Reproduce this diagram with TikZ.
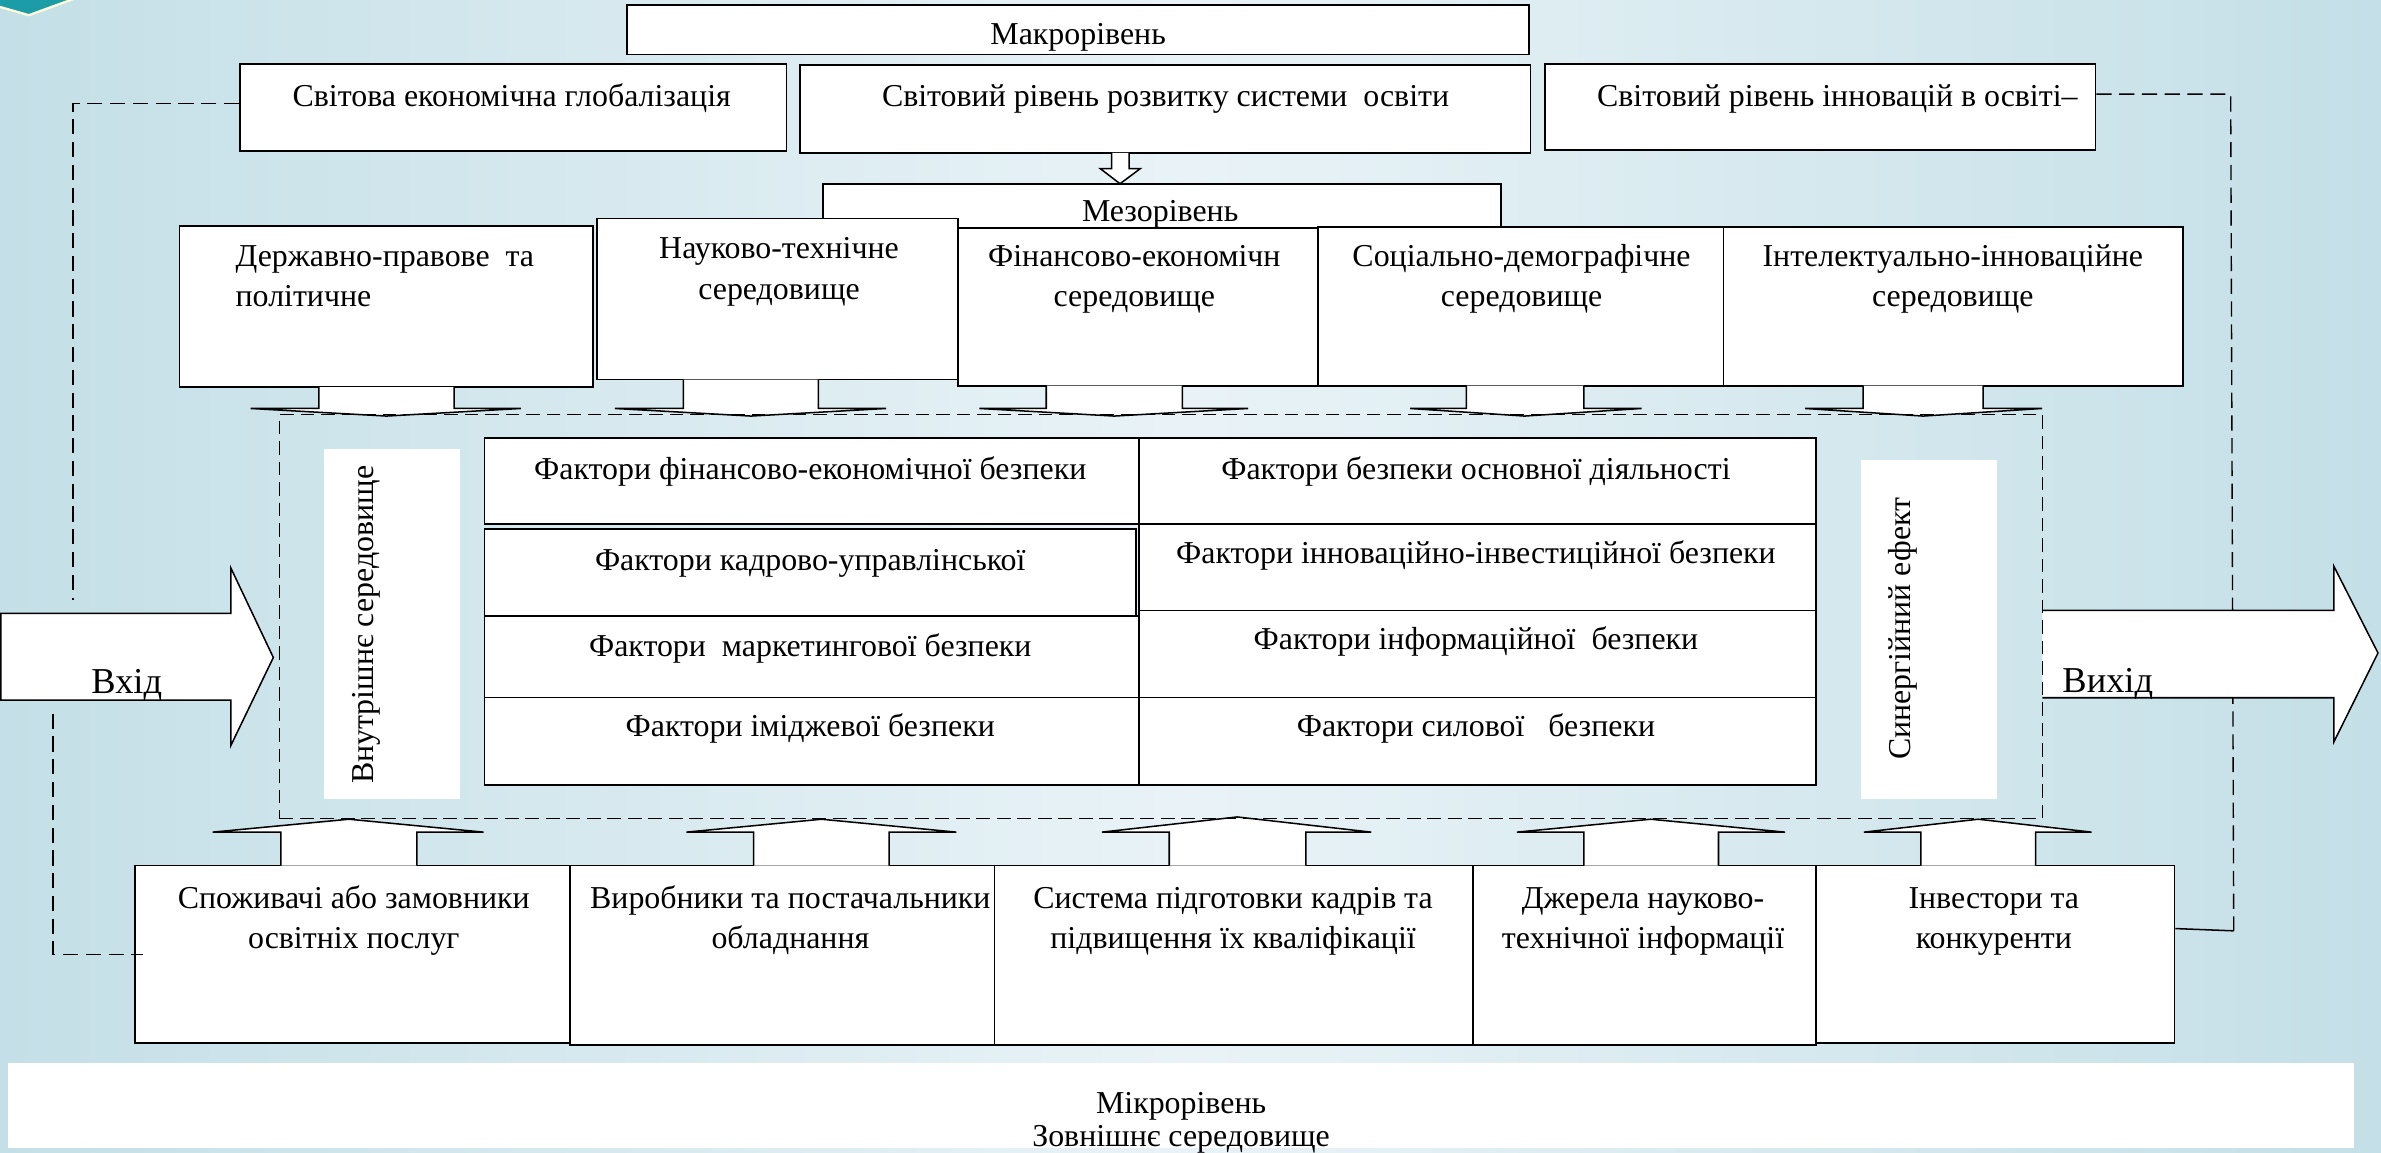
\documentclass[tikz,border=0pt]{standalone}
\usepackage{fontspec}
\setmainfont{Liberation Serif}
\definecolor{bgside}{RGB}{196,223,231}
\definecolor{bgmid}{RGB}{233,243,247}
\definecolor{cornerteal}{RGB}{28,156,166}
\tikzset{
  box/.style={draw, fill=white, line width=1.1pt, inner sep=0pt},
  plainbox/.style={fill=white, inner sep=0pt},
  txt/.style={anchor=base, inner sep=0pt, align=center, font=\fontsize{21}{26.5}\selectfont},
  bigtxt/.style={anchor=base, inner sep=0pt, font=\fontsize{24}{28}\selectfont},
  dashline/.style={dash pattern=on 10pt off 5pt, line width=0.9pt},
  blockarrow/.style={draw, fill=white, line width=1pt, line join=miter},
}
\begin{document}
\begin{tikzpicture}[x=1pt, y=-1pt]
\useasboundingbox (0,0) rectangle (1568,759);
\shade [left color=bgside, right color=bgside, middle color=bgmid] (0,0) rectangle (1568,759);
\fill [cornerteal, draw=white!85!yellow, line width=1.5pt] (-2,-2) -- (52,-2) -- (19,10) -- (-2,4) -- cycle;

% macro level
\node [box, minimum width=594, minimum height=32.7] (macro) at (710,19.65) {};
\node [txt] (macrot) at (710,29.6) {Макрорівень};
\node [box, minimum width=360, minimum height=57.5] (glob) at (338,70.75) {};
\node [txt] (globt) at (337,70) {Світова економічна глобалізація};
\node [box, minimum width=481, minimum height=57.6] (sys) at (767.5,71.8) {};
\node [txt] (syst) at (767.6,70) {Світовий рівень розвитку системи\ \ освіти};
\node [box, minimum width=362.4, minimum height=57] (innov) at (1198.8,70.5) {};
\node [txt] (innovt) at (1210,70) {Світовий рівень інновацій в освіті–};
\draw [blockarrow] (732,100.6) -- (732,111) -- (724.5,111) -- (737.6,121) -- (751,111) -- (743.5,111) -- (743.5,100.6);

% meso level
\node [box, minimum width=446.5, minimum height=44] (meso) at (765.25,143) {};
\node [txt] (mesot) at (764,146) {Мезорівень};
\node [box, minimum width=272.2, minimum height=106] (state) at (254.4,202) {};
\node [txt, anchor=base west, align=left] (statet) at (155,202.1) {Державно-правове\ \ та\\політичне};
\node [box, minimum width=238, minimum height=106] (sci) at (512,197) {};
\node [txt] (scit) at (513,197) {Науково-технічне\\середовище};
\node [box, minimum width=237, minimum height=104] (fin) at (749.5,202) {};
\node [txt] (fint) at (747,202.1) {Фінансово-економічн\\середовище};
\node [box, minimum width=267, minimum height=104.7] (soc) at (1001.5,201.65) {};
\node [txt] (soct) at (1002,202.1) {Соціально-демографічне\\середовище};
\node [box, minimum width=302.6, minimum height=104.7] (intel) at (1286.3,201.65) {};
\node [txt] (intelt) at (1286,202.1) {Інтелектуально-інноваційне\\середовище};

% arrows into the enterprise
\draw [blockarrow] (210,255) -- (210,269) -- (165,269) -- (254.5,274) -- (343,269) -- (299,269) -- (299,255);
\draw [blockarrow] (450,250) -- (450,269) -- (405,269) -- (494.5,274) -- (583.5,269) -- (539,269) -- (539,250);
\draw [blockarrow] (689,254) -- (689,269) -- (645,269) -- (733.8,274) -- (822,269) -- (778.6,269) -- (778.6,254);
\draw [blockarrow] (965.6,254) -- (965.6,269) -- (928.6,269) -- (1004,274) -- (1081,269) -- (1043,269) -- (1043,254);
\draw [blockarrow] (1227,254) -- (1227,269) -- (1188.7,269) -- (1266.5,274) -- (1344.8,269) -- (1306,269) -- (1306,254);

% feedback lines
\coordinate (ltop) at (48,395);
\coordinate (lbot) at (35,470);
\coordinate (rtop) at (1469,62);
\coordinate (rbot) at (1471,613);
\draw [dashline] ([yshift=2.75pt]glob.west) -| (ltop);
\draw [dashline] ([yshift=8.5pt]innov.east) -- (rtop) -- (rbot);

% input and output
\draw [blockarrow] (0.5,404) -- (152,404) -- (152,374) -- (180,433) -- (152,491) -- (152,461) -- (0.5,461) -- cycle;
\node [bigtxt] (int) at (83.5,456.5) {Вхід};
\draw [blockarrow] (1345,402) -- (1537,402) -- (1537,373) -- (1566,430) -- (1537,488.5) -- (1537,459.5) -- (1345,459.5);
\node [bigtxt, anchor=base west] (outt) at (1358,456) {Вихід};

% internal environment
\node [plainbox, minimum width=89.6, minimum height=230.2] (inwbox) at (258.2,410.9) {};
\node [txt, anchor=center, rotate=90] (inwt) at (241,411.5) {Внутрішнє середовище};
\node [plainbox, minimum width=89.4, minimum height=223] (synbox) at (1270.3,414.5) {};
\node [txt, anchor=center, rotate=90] (synt) at (1253,414) {Синергійний ефект};

\node [box, minimum width=431, minimum height=56.4] (f1) at (534.5,316.8) {};
\node [box, minimum width=429, minimum height=57] (f2) at (533.5,377) {};
\node [box, minimum width=431, minimum height=53.9] (f3) at (534.5,432.45) {};
\node [box, minimum width=431, minimum height=57.6] (f4) at (534.5,488.2) {};
\node [box, minimum width=446, minimum height=56.4] (g1) at (973,316.8) {};
\node [box, minimum width=446, minimum height=57] (g2) at (973,373.5) {};
\node [box, minimum width=446, minimum height=57.4] (g3) at (973,430.7) {};
\node [box, minimum width=446, minimum height=57.6] (g4) at (973,488.2) {};
\node [txt] (f1t) at (533.6,316) {Фактори фінансово-економічної безпеки};
\node [txt] (f2t) at (533.6,375.5) {Фактори кадрово-управлінської};
\node [txt] (f3t) at (533.6,432.5) {Фактори\ \ маркетингової безпеки};
\node [txt] (f4t) at (533.6,485) {Фактори іміджевої безпеки};
\node [txt] (g1t) at (972,316) {Фактори безпеки основної діяльності};
\node [txt] (g2t) at (972,371) {Фактори інноваційно-інвестиційної безпеки};
\node [txt] (g3t) at (972,428) {Фактори інформаційної\ \ безпеки};
\node [txt] (g4t) at (972,485) {Фактори силової\ \ \ безпеки};

% micro level
\node [box, minimum width=286.5, minimum height=117] (cons) at (232.25,628.5) {};
\node [box, minimum width=279.5, minimum height=118] (prod) at (515.25,629) {};
\node [box, minimum width=315, minimum height=118] (train) at (812.5,629) {};
\node [box, minimum width=226, minimum height=118] (src) at (1083,629) {};
\node [box, minimum width=236, minimum height=117] (inv) at (1314,628.5) {};
\node [txt] (const) at (233,624.5) {Споживачі або замовники\\освітніх послуг};
\node [txt] (prodt) at (520.5,624.5) {Виробники та постачальники\\обладнання};
\node [txt] (traint) at (812,624.5) {Система підготовки кадрів та\\підвищення їх кваліфікації};
\node [txt] (srct) at (1082,624.5) {Джерела науково-\\технічної інформації};
\node [txt] (invt) at (1313,624.5) {Інвестори та\\конкуренти};

\draw [blockarrow] (185,570) -- (185,548) -- (140,548) -- (229.8,539.5) -- (318.5,548) -- (274.6,548) -- (274.6,570);
\draw [blockarrow] (496.3,570) -- (496.3,548) -- (452,548) -- (541,539.5) -- (629.8,548) -- (585.5,548) -- (585.5,570);
\draw [blockarrow] (770,570) -- (770,548) -- (725.6,548) -- (814.7,538) -- (903,548) -- (860,548) -- (860,570);
\draw [blockarrow] (1043,570) -- (1043,548) -- (999,548) -- (1087,539.5) -- (1175.5,548) -- (1131.7,548) -- (1131.7,570);
\draw [blockarrow] (1265,570) -- (1265,548) -- (1227.5,548) -- (1302.7,539.5) -- (1377.4,548) -- (1340.5,548) -- (1340.5,570);

\draw [dashline] (lbot) |- ([xshift=6pt]cons.west);
\draw [line width=1pt] (rbot) -- ([yshift=17pt]inv.east);

% enterprise border
\node [draw, dash pattern=on 9pt off 4.5pt, line width=0.9pt, minimum width=1161, minimum height=266, inner sep=0pt] (firm) at (764.5,406) {};

\node [plainbox, minimum width=1545.5, minimum height=56] (micro) at (777.75,728) {};
\node [txt, font=\fontsize{21}{21.5}\selectfont] (microt) at (777.8,755.1) {Мікрорівень\\Зовнішнє середовище};
\end{tikzpicture}
\end{document}
